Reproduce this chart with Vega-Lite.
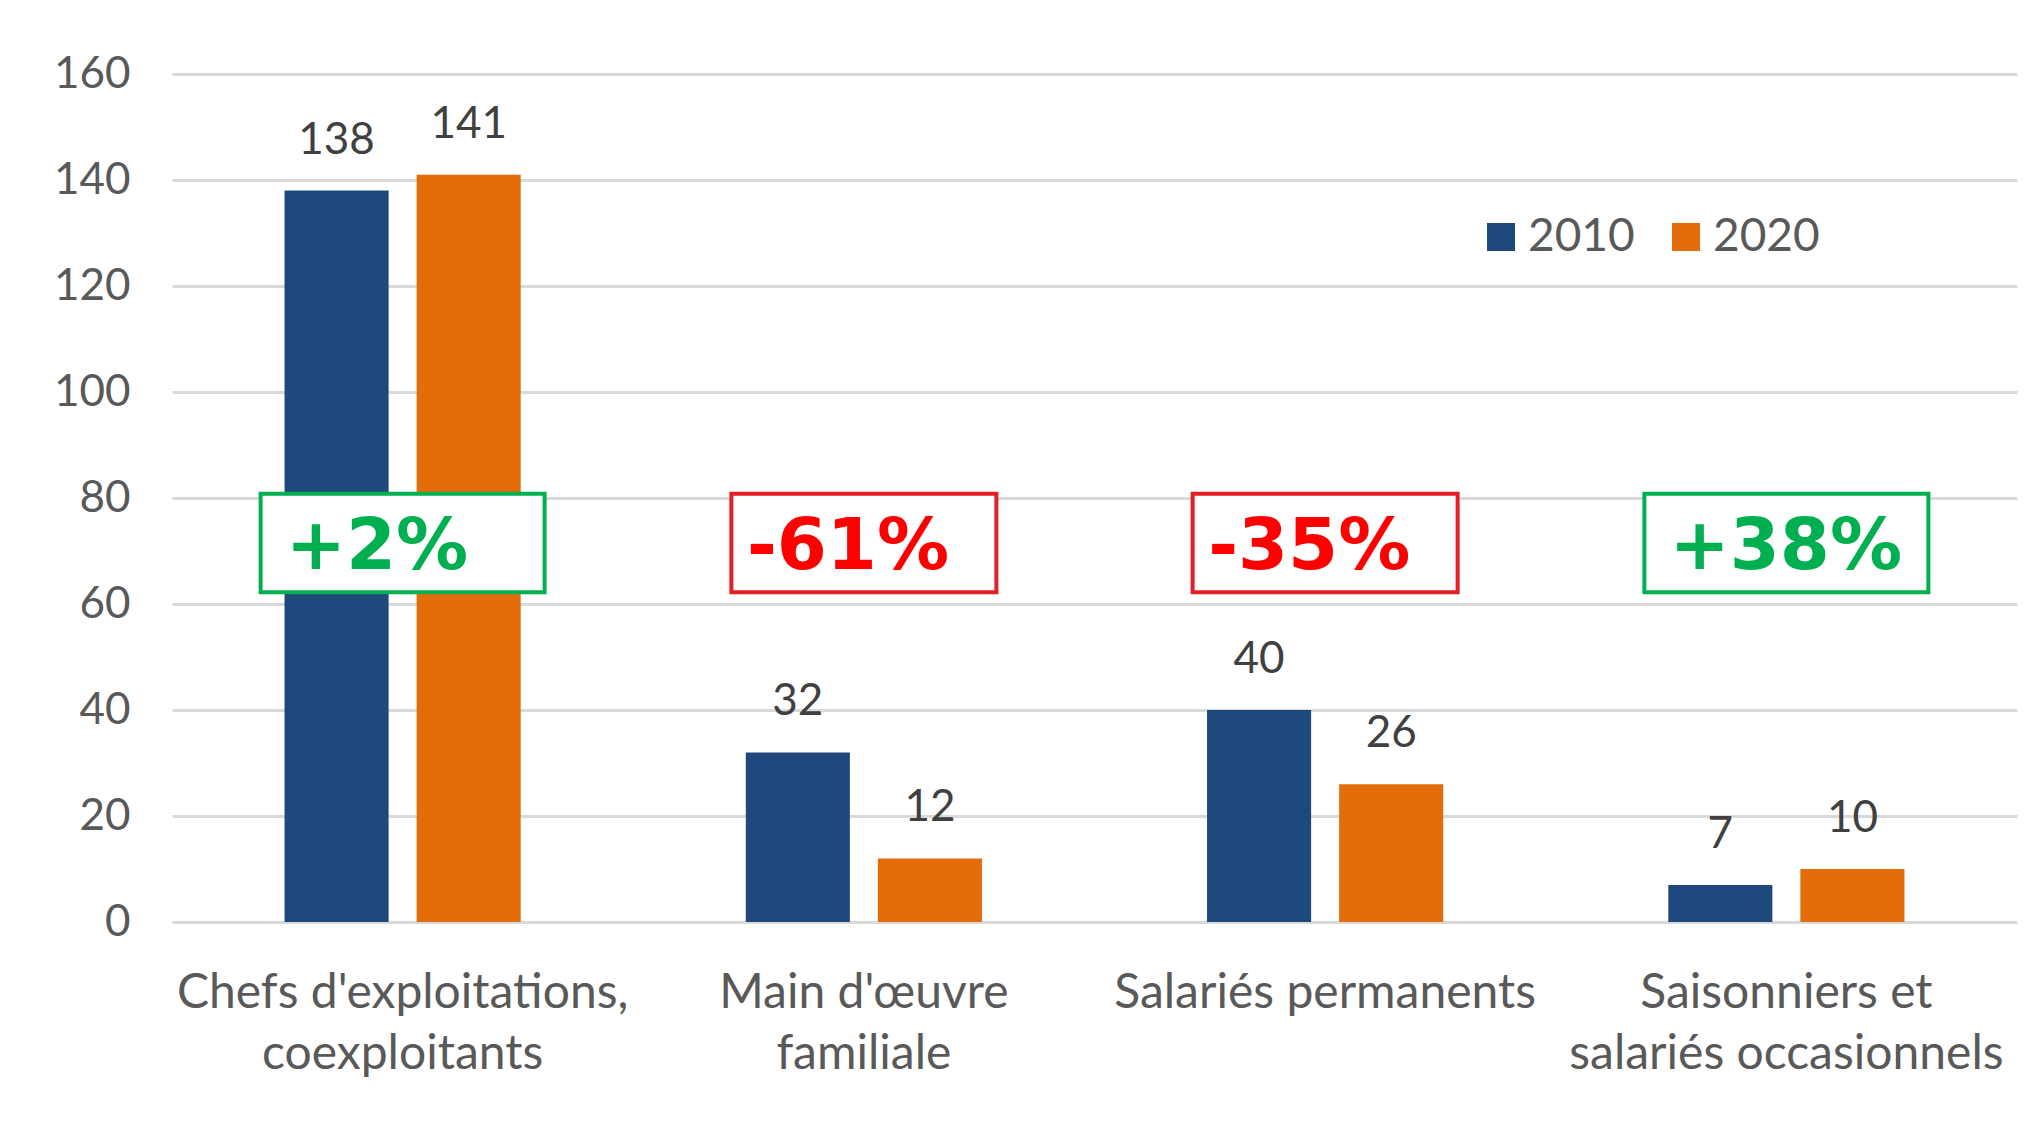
{
  "$schema": "https://vega.github.io/schema/vega-lite/v6.json",
  "width": 1845,
  "height": 848,
  "autosize": {"type": "none"},
  "padding": {"left": 172, "top": 74, "right": 14, "bottom": 199},
  "background": "white",
  "config": {"view": {"stroke": null}, "font": "Lato"},
  "datasets": {
    "effectifs": [
      {"categorie": "Chefs d'exploitations, coexploitants", "annee": "2010", "valeur": 138},
      {"categorie": "Chefs d'exploitations, coexploitants", "annee": "2020", "valeur": 141},
      {"categorie": "Main d'œuvre familiale", "annee": "2010", "valeur": 32},
      {"categorie": "Main d'œuvre familiale", "annee": "2020", "valeur": 12},
      {"categorie": "Salariés permanents", "annee": "2010", "valeur": 40},
      {"categorie": "Salariés permanents", "annee": "2020", "valeur": 26},
      {"categorie": "Saisonniers et salariés occasionnels", "annee": "2010", "valeur": 7},
      {"categorie": "Saisonniers et salariés occasionnels", "annee": "2020", "valeur": 10}
    ],
    "evolutions": [
      {"categorie": "Chefs d'exploitations, coexploitants", "evolution": "+2%", "sens": "hausse"},
      {"categorie": "Main d'œuvre familiale", "evolution": "-61%", "sens": "baisse"},
      {"categorie": "Salariés permanents", "evolution": "-35%", "sens": "baisse"},
      {"categorie": "Saisonniers et salariés occasionnels", "evolution": "+38%", "sens": "hausse"}
    ]
  },
  "layer": [
    {
      "data": {"name": "effectifs"},
      "mark": {"type": "bar"},
      "encoding": {
        "x": {
          "field": "categorie",
          "type": "nominal",
          "sort": ["Chefs d'exploitations, coexploitants", "Main d'œuvre familiale", "Salariés permanents", "Saisonniers et salariés occasionnels"],
          "scale": {"paddingInner": 0.488, "paddingOuter": 0.244},
          "axis": {
            "title": null,
            "domain": false,
            "ticks": false,
            "labelAngle": 0,
            "labelFontSize": 48,
            "labelColor": "#595959",
            "labelPadding": 47,
            "labelLineHeight": 61,
            "labelLimit": 600,
            "labelExpr": "datum.value == \"Chefs d'exploitations, coexploitants\" ? [\"Chefs d'exploitations,\", 'coexploitants'] : datum.value == \"Main d'œuvre familiale\" ? [\"Main d'œuvre\", 'familiale'] : datum.value == 'Saisonniers et salariés occasionnels' ? ['Saisonniers et', 'salariés occasionnels'] : datum.value"
          }
        },
        "xOffset": {"field": "annee", "type": "nominal", "scale": {"paddingInner": 0.212}},
        "y": {
          "field": "valeur",
          "type": "quantitative",
          "scale": {"domain": [0, 160]},
          "axis": {
            "title": null,
            "values": [0, 20, 40, 60, 80, 100, 120, 140, 160],
            "grid": true,
            "gridColor": "#d9d9d9",
            "gridWidth": 3,
            "domain": false,
            "ticks": false,
            "labelFontSize": 44,
            "labelColor": "#595959",
            "labelPadding": 42
          }
        },
        "color": {
          "field": "annee",
          "type": "nominal",
          "scale": {"domain": ["2010", "2020"], "range": ["#1f497d", "#e46c0a"]},
          "legend": {
            "orient": "none",
            "legendX": 1306,
            "legendY": 140,
            "direction": "horizontal",
            "title": null,
            "symbolType": "square",
            "symbolSize": 784,
            "symbolStrokeWidth": 0,
            "labelFontSize": 46,
            "labelColor": "#595959",
            "labelOffset": 4,
            "columnPadding": 28,
            "padding": 0
          }
        }
      }
    },
    {
      "data": {"name": "effectifs"},
      "mark": {"type": "text", "baseline": "alphabetic", "dy": -37, "fontSize": 44, "color": "#404040"},
      "encoding": {
        "x": {"field": "categorie", "type": "nominal", "sort": ["Chefs d'exploitations, coexploitants", "Main d'œuvre familiale", "Salariés permanents", "Saisonniers et salariés occasionnels"]},
        "xOffset": {"field": "annee", "type": "nominal"},
        "y": {"field": "valeur", "type": "quantitative"},
        "text": {"field": "valeur", "type": "quantitative"}
      }
    },
    {
      "data": {"name": "evolutions"},
      "mark": {"type": "bar", "fill": "white", "strokeWidth": 4, "orient": "vertical"},
      "encoding": {
        "x": {"field": "categorie", "type": "nominal", "sort": ["Chefs d'exploitations, coexploitants", "Main d'œuvre familiale", "Salariés permanents", "Saisonniers et salariés occasionnels"]},
        "y": {"datum": 62.2},
        "y2": {"datum": 80.8},
        "size": {"condition": {"test": "datum.sens == 'hausse'", "value": 284}, "value": 265},
        "stroke": {"condition": {"test": "datum.sens == 'hausse'", "value": "#00b050"}, "value": "#e31e24"}
      }
    },
    {
      "data": {"name": "evolutions"},
      "mark": {"type": "text", "baseline": "middle", "align": "left", "dx": -117, "fontSize": 72, "font": "DejaVu Sans", "fontWeight": "bold"},
      "encoding": {
        "x": {"field": "categorie", "type": "nominal", "sort": ["Chefs d'exploitations, coexploitants", "Main d'œuvre familiale", "Salariés permanents", "Saisonniers et salariés occasionnels"]},
        "y": {"datum": 70.8},
        "text": {"field": "evolution", "type": "nominal"},
        "color": {"condition": {"test": "datum.sens == 'hausse'", "value": "#00b050"}, "value": "#ff0000"}
      }
    }
  ]
}
